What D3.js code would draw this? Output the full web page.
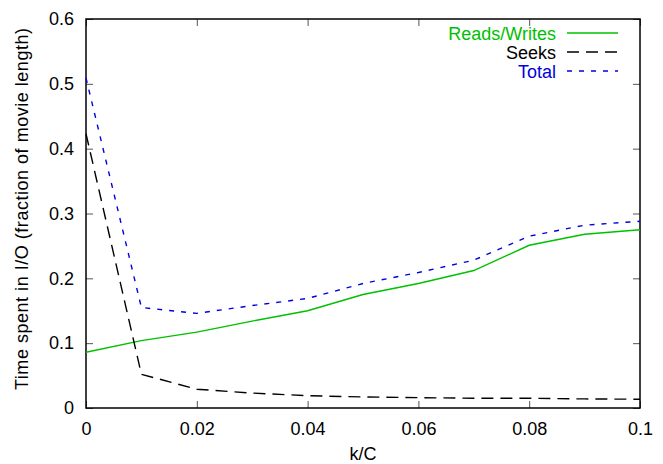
<!DOCTYPE html>
<html>
<head>
<meta charset="utf-8">
<script src="https://cdn.jsdelivr.net/npm/d3@7"></script>
<style>
  body { margin: 0; background: #fff; }
  text { font-family: "Liberation Sans", Arial, sans-serif; }
</style>
</head>
<body>
<svg id="chart" width="663" height="464"></svg>
<script>
const kc = [0, 0.01, 0.02, 0.03, 0.04, 0.05, 0.06, 0.07, 0.08, 0.09, 0.1];
const readsWrites = [0.086, 0.104, 0.117, 0.134, 0.150, 0.175, 0.192, 0.212, 0.251, 0.268, 0.275];
const seeks = [0.423, 0.052, 0.029, 0.023, 0.019, 0.017, 0.016, 0.015, 0.015, 0.014, 0.0135];
const total = [0.509, 0.155, 0.146, 0.158, 0.169, 0.192, 0.209, 0.228, 0.265, 0.282, 0.288];
const xTicks = [0, 0.02, 0.04, 0.06, 0.08, 0.1];
const yTicks = [0, 0.1, 0.2, 0.3, 0.4, 0.5, 0.6];

const series = [
  { name: "Reads/Writes", values: readsWrites, color: "#00c000", dash: null },
  { name: "Seeks", values: seeks, color: "#000000", dash: "12,7" },
  { name: "Total", values: total, color: "#0000e0", dash: "5,7" }
];

const mLeft = 86, mRight = 640, mTop = 19, mBottom = 408;
const fs = 18;
const svg = d3.select("#chart");

const x = d3.scaleLinear().domain([0, 0.1]).range([mLeft, mRight]);
const y = d3.scaleLinear().domain([0, 0.6]).range([mBottom, mTop]);

const fmt = d => d === 0 ? "0" : String(+d.toFixed(2));

// axes, ticks on all four sides like gnuplot
const tl = 7;
svg.append("g").attr("transform", "translate(0," + mBottom + ")")
  .call(d3.axisBottom(x).tickValues(xTicks).tickFormat(fmt).tickSizeInner(-tl).tickSizeOuter(0).tickPadding(14))
  .call(g => g.select(".domain").remove());
svg.append("g").attr("transform", "translate(0," + mTop + ")")
  .call(d3.axisTop(x).tickValues(xTicks).tickFormat("").tickSizeInner(-tl).tickSizeOuter(0))
  .call(g => g.select(".domain").remove());
svg.append("g").attr("transform", "translate(" + mLeft + ",0)")
  .call(d3.axisLeft(y).tickValues(yTicks).tickFormat(fmt).tickSizeInner(-tl).tickSizeOuter(0).tickPadding(12))
  .call(g => g.select(".domain").remove());
svg.append("g").attr("transform", "translate(" + mRight + ",0)")
  .call(d3.axisRight(y).tickValues(yTicks).tickFormat("").tickSizeInner(-tl).tickSizeOuter(0))
  .call(g => g.select(".domain").remove());

svg.selectAll(".tick text").attr("font-size", fs).attr("fill", "#000")
  .attr("font-family", "Liberation Sans, Arial, sans-serif");
svg.selectAll(".tick line").attr("stroke", "#555");

svg.append("rect")
  .attr("x", mLeft).attr("y", mTop)
  .attr("width", mRight - mLeft).attr("height", mBottom - mTop)
  .attr("fill", "none").attr("stroke", "#000").attr("stroke-width", 1.5);

// lines
const line = d3.line().x((d, i) => x(kc[i])).y(d => y(d));
series.forEach(s => {
  svg.append("path")
    .datum(s.values)
    .attr("d", line)
    .attr("fill", "none")
    .attr("stroke", s.color)
    .attr("stroke-width", 1.4)
    .attr("stroke-dasharray", s.dash);
});

// legend
const legend = svg.append("g");
series.forEach((s, i) => {
  const ly = 33 + i * 19;
  legend.append("text")
    .attr("x", 556).attr("y", ly + 6.5)
    .attr("text-anchor", "end")
    .attr("font-size", fs)
    .attr("fill", s.color)
    .text(s.name);
  legend.append("line")
    .attr("x1", 567).attr("x2", 618)
    .attr("y1", ly).attr("y2", ly)
    .attr("stroke", s.color).attr("stroke-width", 1.4)
    .attr("stroke-dasharray", s.dash);
});

// axis titles
svg.append("text")
  .attr("x", (mLeft + mRight) / 2).attr("y", 460)
  .attr("text-anchor", "middle").attr("font-size", fs)
  .text("k/C");
svg.append("text")
  .attr("transform", "translate(28,209) rotate(-90)")
  .attr("text-anchor", "middle").attr("font-size", fs)
  .attr("textLength", 362).attr("lengthAdjust", "spacing")
  .text("Time spent in I/O (fraction of movie length)");
</script>
</body>
</html>
